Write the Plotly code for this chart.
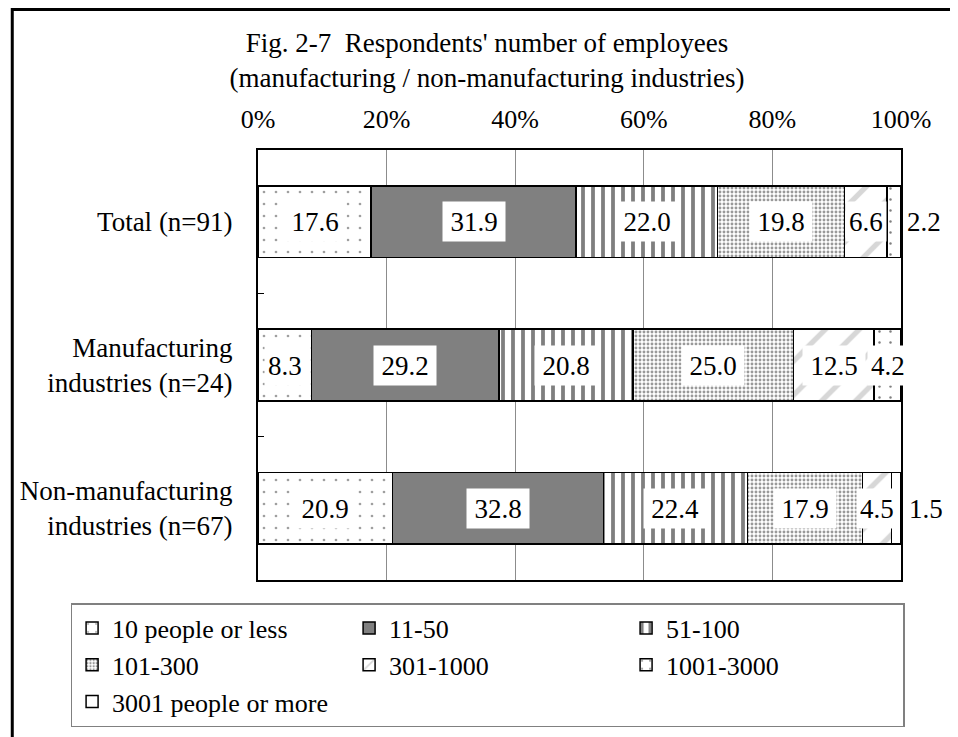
import plotly.graph_objects as go

categories = ["Total (n=91)", "Manufacturing<br>industries (n=24)", "Non-manufacturing<br>industries (n=67)"]
series_names = ["10 people or less", "11-50", "51-100", "101-300", "301-1000", "1001-3000", "3001 people or more"]
v_10_or_less = [17.6, 8.3, 20.9]
v_11_50 = [31.9, 29.2, 32.8]
v_51_100 = [22.0, 20.8, 22.4]
v_101_300 = [19.8, 25.0, 17.9]
v_301_1000 = [6.6, 12.5, 4.5]
v_1001_3000 = [2.2, 4.2, 1.5]
v_3001_more = [0.0, 0.0, 0.0]
tick_vals = [0, 20, 40, 60, 80, 100]
tick_text = ["0%", "20%", "40%", "60%", "80%", "100%"]

series_values = [v_10_or_less, v_11_50, v_51_100, v_101_300, v_301_1000, v_1001_3000, v_3001_more]

FONT = "Liberation Serif"

# plot area in figure pixels
PL, PR, PT, PB = 248, 893, 142, 572
W, H = 958, 737
PW, PH = PR - PL, PB - PT

styles = [
    dict(color="white", pattern=dict(shape=".", fgcolor="#404040", bgcolor="white", size=12, solidity=0.04, fillmode="overlay")),
    dict(color="#808080", pattern=dict(shape="")),
    dict(color="white", pattern=dict(shape="|", fgcolor="black", bgcolor="white", size=10, solidity=0.38, fillmode="overlay")),
    dict(color="white", pattern=dict(shape=".", fgcolor="#333333", bgcolor="white", size=4, solidity=0.42, fillmode="overlay")),
    dict(color="white", pattern=dict(shape="/", fgcolor="#b0b0b0", bgcolor="white", size=24, solidity=0.22, fillmode="overlay")),
    dict(color="white", pattern=dict(shape=".", fgcolor="black", bgcolor="white", size=11, solidity=0.04, fillmode="overlay")),
    dict(color="white", pattern=dict(shape="")),
]

fig = go.Figure()
for name, vals, st in zip(series_names, series_values, styles):
    fig.add_trace(go.Bar(
        y=categories, x=vals, name=name, orientation="h",
        marker=dict(color=st["color"], pattern=st["pattern"], line=dict(color="black", width=1.5)),
        width=0.5,
    ))

# data labels
annotations = []
for ci, cat in enumerate(categories):
    total = sum(s[ci] for s in series_values)
    cum = 0.0
    for s in series_values:
        v = s[ci]
        pct = v / total * 100
        mid = cum + pct / 2
        cum += pct
        if v <= 0:
            continue
        small = v < 3
        label = f"{v:.1f}"
        annotations.append(dict(
            x=mid, y=cat, xref="x", yref="y", text=label, showarrow=False,
            font=dict(family=FONT, size=27, color="black"),
            bgcolor="white", borderpad=3, xshift=30 if small else 0,
            width=56 if len(label) > 3 else None, height=33,
        ))

fig.update_layout(
    barmode="stack", barnorm="percent",
    width=W, height=H,
    margin=dict(l=PL, r=W - PR, t=PT, b=H - PB),
    paper_bgcolor="white", plot_bgcolor="white",
    font=dict(family=FONT, size=27, color="black"),
    title=dict(
        text="Fig. 2-7  Respondents' number of employees<br>(manufacturing / non-manufacturing industries)",
        x=0.5, xanchor="center", y=1 - 44 / H, yanchor="middle",
        font=dict(family=FONT, size=27, color="black"),
    ),
    xaxis=dict(
        side="top", range=[0, 100], tickvals=tick_vals, ticktext=tick_text,
        tickfont=dict(family=FONT, size=26, color="black"),
        showgrid=True, gridcolor="#8c8c8c", gridwidth=1,
        showline=True, linecolor="black", linewidth=2, mirror=True,
        ticks="", zeroline=False, ticklabelstandoff=10,
    ),
    yaxis=dict(
        categoryorder="array", categoryarray=categories, autorange="reversed",
        tickfont=dict(family=FONT, size=27, color="black"),
        showline=True, linecolor="black", linewidth=2, mirror=True,
        ticks="inside", ticklen=6, tickwidth=1, tickcolor="black", tickson="boundaries",
        showgrid=False, ticklabelstandoff=18,
    ),
    legend=dict(
        orientation="h", x=(60 - PL) / PW, xanchor="left", y=(PB - 595) / PH, yanchor="top",
        bgcolor="white", bordercolor="#808080", borderwidth=1.5,
        font=dict(family=FONT, size=26, color="black"),
        entrywidth=232, entrywidthmode="pixels", traceorder="normal",
    ),
    annotations=annotations,
    shapes=[dict(type="rect", xref="paper", yref="paper",
                 x0=(1.5 - PL) / PW, x1=1.3, y0=-0.6, y1=(PB - 1.5) / PH,
                 line=dict(color="black", width=3), fillcolor="rgba(0,0,0,0)", layer="below")],
)

fig.write_html("out.html")
